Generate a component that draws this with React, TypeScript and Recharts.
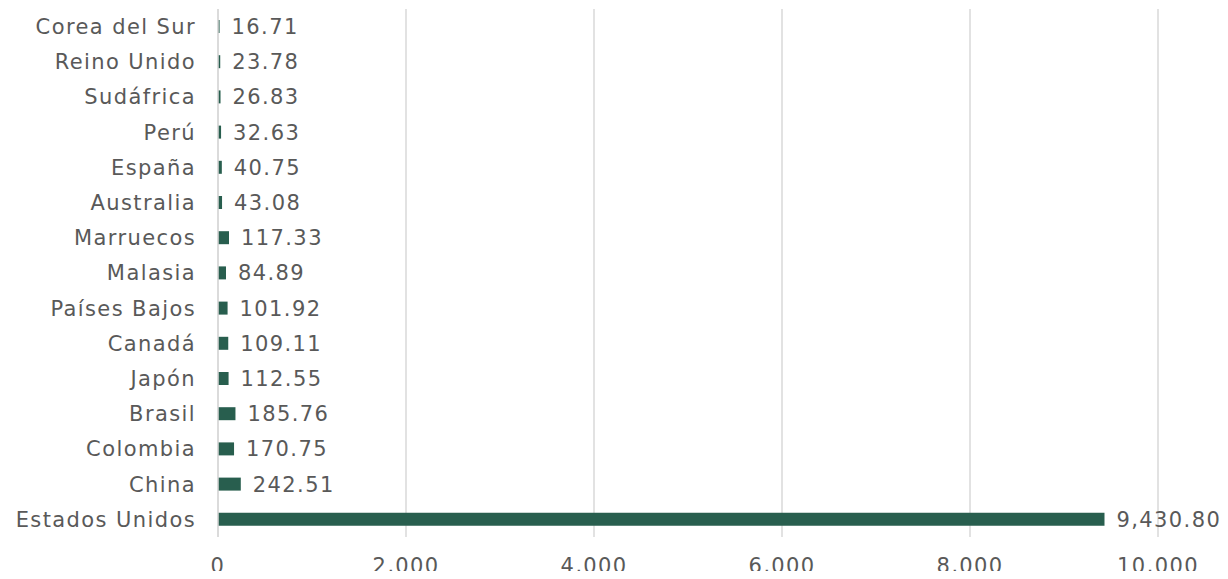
import React from 'react';
import { BarChart, Bar, XAxis, YAxis, CartesianGrid, LabelList } from 'recharts';

const countries = [
  'Corea del Sur', 'Reino Unido', 'Sudáfrica', 'Perú', 'España', 'Australia', 'Marruecos',
  'Malasia', 'Países Bajos', 'Canadá', 'Japón ', 'Brasil', 'Colombia', 'China', 'Estados Unidos',
];
const values = [
  16.71, 23.78, 26.83, 32.63, 40.75, 43.08, 117.33,
  84.89, 101.92, 109.11, 112.55, 185.76, 170.75, 242.51, 9430.8,
];
const xTicks = [0, 2000, 4000, 6000, 8000, 10000];

const data = countries.map((name, i) => ({ name, value: values[i] }));

const FONT = '"DejaVu Sans", sans-serif';
const TEXT = '#595959';
const textStyle = { fill: TEXT, fontSize: 21, fontFamily: FONT, letterSpacing: 1.4 };

const fmtNum = (v: number) => v.toLocaleString('en-US', { minimumFractionDigits: 2, maximumFractionDigits: 2 });

export default function App() {
  return (
    <div style={{ margin: -8, width: 1228, height: 579, background: '#fff' }}>
      <BarChart
        width={1228}
        height={579}
        data={data}
        layout="vertical"
        margin={{ top: 9, right: 70, bottom: 0, left: 0 }}
        barSize={13}
      >
        <CartesianGrid horizontal={false} stroke="#d9d9d9" strokeWidth={1.5} />
        <XAxis
          type="number"
          domain={[0, 10000]}
          ticks={xTicks}
          tickFormatter={(v: number) => v.toLocaleString('en-US')}
          axisLine={false}
          tickLine={false}
          tickSize={0}
          tickMargin={21}
          height={42}
          tick={textStyle}
        />
        <YAxis
          type="category"
          dataKey="name"
          width={218}
          axisLine={{ stroke: '#d9d9d9', strokeWidth: 1.5 }}
          tickLine={false}
          tickSize={0}
          tickMargin={22}
          interval={0}
          tick={textStyle}
        />
        <Bar dataKey="value" fill="#285e4e" isAnimationActive={false}>
          <LabelList
            dataKey="value"
            position="right"
            offset={12}
            formatter={(v: number) => fmtNum(v)}
            style={textStyle}
          />
        </Bar>
      </BarChart>
    </div>
  );
}
